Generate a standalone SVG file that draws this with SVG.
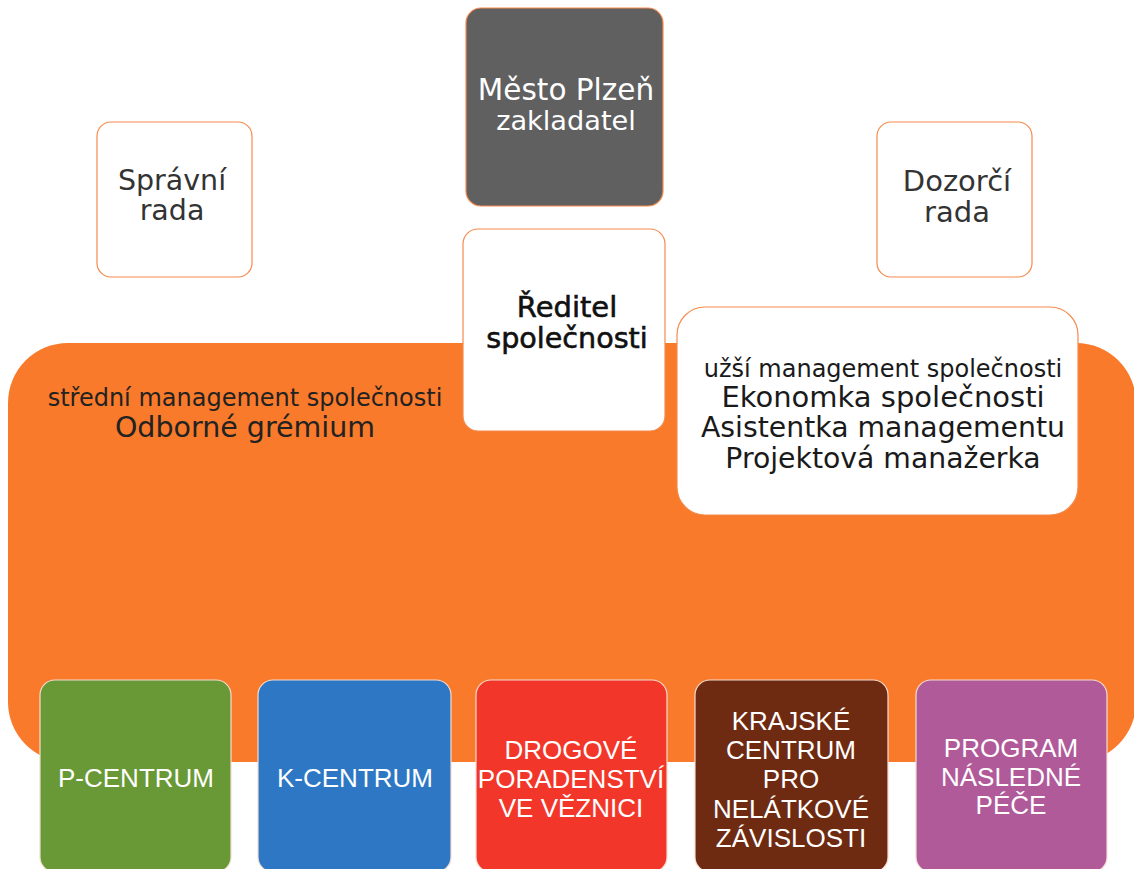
<svg xmlns="http://www.w3.org/2000/svg" width="1134" height="869" viewBox="0 0 1134 869">
<style>
.dv{font-family:"DejaVu Sans","Noto Sans",sans-serif;text-anchor:middle}
.ls{font-family:"Liberation Sans",Arial,sans-serif;text-anchor:middle;fill:#fff;font-size:26px}
.wbox{fill:#fff;stroke:#f58a4c;stroke-width:1.2}
.cbox{stroke:#f3dccf;stroke-width:1.2}
</style>
<rect width="1134" height="869" fill="#fff"/>
<g id="management-area">
<rect x="8" y="343" width="1128" height="419" rx="60" ry="60" fill="#f97a2a"/>
<text class="dv" x="245" y="406" font-size="24" fill="#222">střední management společnosti</text>
<text class="dv" x="245" y="437" font-size="28.5" fill="#222">Odborné grémium</text>
</g>
<g id="connectors"></g>
<g id="mesto-plzen">
<rect x="466" y="8" width="197" height="198" rx="15" fill="#606060" stroke="#f58a4c" stroke-width="1.2"/>
<text class="dv" x="566" y="100" font-size="29.5" fill="#fff">Město Plzeň</text>
<text class="dv" x="566" y="130" font-size="27.2" fill="#fff">zakladatel</text>
</g>
<g id="spravni-rada">
<rect class="wbox" x="97" y="122" width="155" height="155" rx="14"/>
<text class="dv" x="172" y="190" font-size="28.5" fill="#333">Správní</text>
<text class="dv" x="172" y="220" font-size="28.5" fill="#333">rada</text>
</g>
<g id="dozorci-rada">
<rect class="wbox" x="877" y="122" width="155" height="155" rx="14"/>
<text class="dv" x="957" y="191" font-size="29" fill="#333">Dozorčí</text>
<text class="dv" x="957" y="222" font-size="29" fill="#333">rada</text>
</g>
<g id="reditel">
<rect class="wbox" x="463" y="229" width="202" height="202" rx="15"/>
<text class="dv" x="567" y="317" font-size="29" fill="#111" stroke="#111" stroke-width="0.6">Ředitel</text>
<text class="dv" x="567" y="348" font-size="28.6" fill="#111" stroke="#111" stroke-width="0.6">společnosti</text>
</g>
<g id="uzsi-management">
<rect class="wbox" x="677" y="307" width="401" height="208" rx="28"/>
<text class="dv" x="883" y="377" font-size="24" fill="#1a1a1a">užší management společnosti</text>
<text class="dv" x="883" y="407" font-size="29" fill="#1a1a1a">Ekonomka společnosti</text>
<text class="dv" x="883" y="437" font-size="28.3" fill="#1a1a1a">Asistentka managementu</text>
<text class="dv" x="883" y="468" font-size="28.3" fill="#1a1a1a">Projektová manažerka</text>
</g>
<g id="p-centrum">
<rect class="cbox" x="40" y="680" width="191" height="192" rx="15" fill="#689936"/>
<text class="ls" x="136" y="787">P-CENTRUM</text>
</g>
<g id="k-centrum">
<rect class="cbox" x="258" y="680" width="193" height="192" rx="15" fill="#2d77c5"/>
<text class="ls" x="355" y="787">K-CENTRUM</text>
</g>
<g id="drogove-poradenstvi">
<rect class="cbox" x="476" y="680" width="191" height="192" rx="15" fill="#f2372a"/>
<text class="ls" x="571" y="759">DROGOVÉ</text>
<text class="ls" x="571" y="788">PORADENSTVÍ</text>
<text class="ls" x="571" y="817">VE VĚZNICI</text>
</g>
<g id="krajske-centrum">
<rect class="cbox" x="695" y="680" width="193" height="192" rx="15" fill="#6f2a12"/>
<text class="ls" x="791" y="730">KRAJSKÉ</text>
<text class="ls" x="791" y="759">CENTRUM</text>
<text class="ls" x="791" y="788">PRO</text>
<text class="ls" x="791" y="818">NELÁTKOVÉ</text>
<text class="ls" x="791" y="847">ZÁVISLOSTI</text>
</g>
<g id="program-nasledne-pece">
<rect class="cbox" x="916" y="680" width="191" height="192" rx="15" fill="#b05a9a"/>
<text class="ls" x="1011" y="757">PROGRAM</text>
<text class="ls" x="1011" y="786">NÁSLEDNÉ</text>
<text class="ls" x="1011" y="814">PÉČE</text>
</g>
</svg>
